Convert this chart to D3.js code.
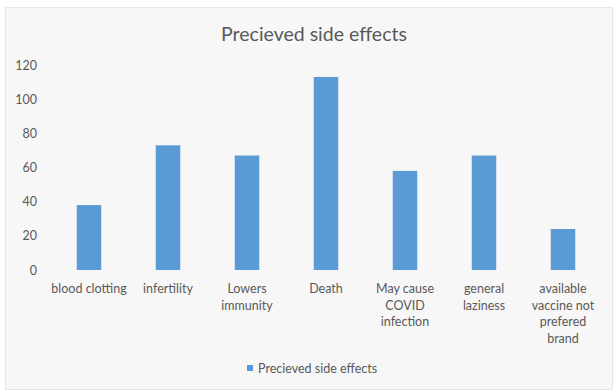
<!DOCTYPE html>
<html><head><meta charset="utf-8">
<script src="https://cdn.jsdelivr.net/npm/d3@7"></script>
<style>body{margin:0;background:#fff}svg{display:block}</style>
</head><body>
<script>
const categories = [["blood clotting"],["infertility"],["Lowers","immunity"],["Death"],["May cause","COVID","infection"],["general","laziness"],["available","vaccine not","prefered","brand"]];
const values = [38, 73, 67, 113, 58, 67, 24];
const yTicks = [0, 20, 40, 60, 80, 100, 120];
const title = "Precieved side effects";
const seriesName = "Precieved side effects";

const W = 614, H = 390;
const svg = d3.select("body").append("svg").attr("width", W).attr("height", H);
svg.append("rect").attr("x",0).attr("y",0).attr("width",W).attr("height",H).attr("fill","#fff");
svg.append("rect").attr("x",5.5).attr("y",7.5).attr("width",W-7).attr("height",H-8).attr("fill","#f7f7f7").attr("stroke","#e6e6e6");

const font = "Lato, 'Open Sans', sans-serif";
const fs = 12.5;
const x = d3.scaleBand().domain(d3.range(values.length)).range([49.5, 602.5]).paddingInner(0.69).paddingOuter(0.345);
const y = d3.scaleLinear().domain([0, 120]).range([270, 65]);

svg.append("text").attr("x", 314).attr("y", 41).attr("text-anchor","middle")
  .attr("font-family", font).attr("font-size", 19.5).attr("fill","#595959").text(title);

const yAxis = d3.axisLeft(y).tickValues(yTicks).tickSize(0).tickPadding(0);
const gy = svg.append("g").attr("transform","translate(37,0)").call(yAxis);
gy.select(".domain").remove();
gy.selectAll("text").attr("font-family", font).attr("font-size", fs).attr("fill","#595959");

svg.append("g").selectAll("rect").data(values).join("rect")
  .attr("x", (d,i) => x(i)).attr("width", x.bandwidth())
  .attr("y", d => y(d)).attr("height", d => y(0) - y(d))
  .attr("fill", "#5b9bd5");

const xl = svg.append("g");
categories.forEach((lines, i) => {
  const t = xl.append("text").attr("text-anchor","middle").attr("font-family", font)
    .attr("font-size", fs).attr("fill","#595959");
  lines.forEach((ln, j) => {
    t.append("tspan").attr("x", x(i) + x.bandwidth()/2).attr("y", 293 + j*16.7).text(ln);
  });
});

const lg = svg.append("g");
lg.append("rect").attr("x", 247).attr("y", 365).attr("width", 6).attr("height", 6).attr("fill","#5b9bd5");
lg.append("text").attr("x", 258).attr("y", 372.5).attr("font-family", font).attr("font-size", fs)
  .attr("fill","#595959").text(seriesName);
</script>
</body></html>
